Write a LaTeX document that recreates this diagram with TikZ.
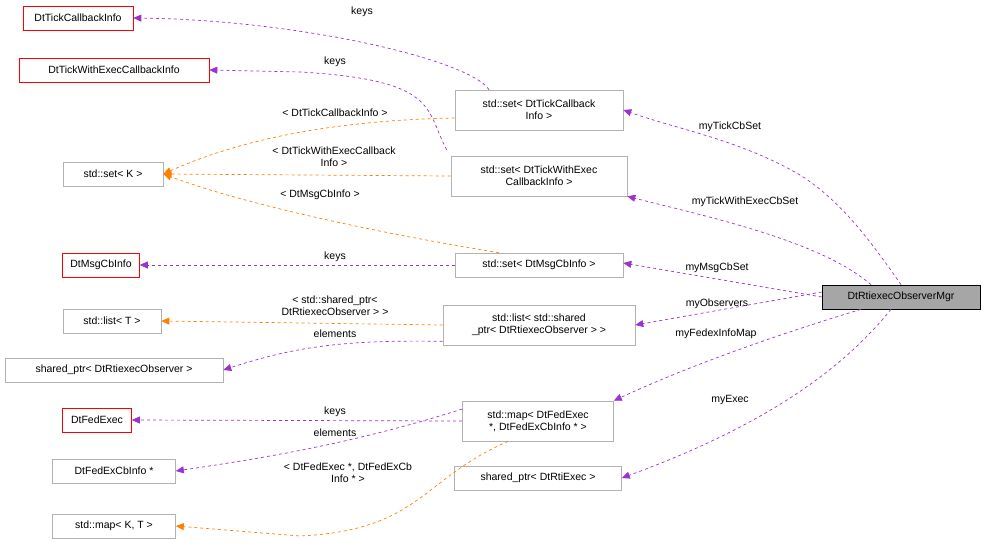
\documentclass[tikz,border=0pt]{standalone}
\usepackage{fontspec}
\setmainfont{Liberation Sans}
\usetikzlibrary{arrows.meta}
\begin{document}
\begin{tikzpicture}[x=1pt,y=-1pt,
 every node/.style={font=\fontsize{10.5}{12}\selectfont},
 box/.style={draw=#1,fill=white,minimum height=24pt,inner xsep=2pt,align=center,line width=0.6pt},
 box/.default={black!30},
 red/.style={box=red},
 two/.style={box,minimum height=40pt,inner ysep=2pt},
 lab/.style={align=center,inner sep=1pt,fill=none},
 pu/.style={draw={rgb,255:red,154;green,50;blue,205},dashed,line width=0.7pt,-{Triangle[length=8pt,width=7pt]}},
 or/.style={draw=orange,dashed,line width=0.7pt,-{Triangle[length=8pt,width=7pt]},color=orange}]
\useasboundingbox (0,0) rectangle (987,548);
\node[red,minimum width=110pt] (tcb) at (78,18) {DtTickCallbackInfo};
\node[red,minimum width=190pt] (twe) at (114,70) {DtTickWithExecCallbackInfo};
\node[box,minimum width=100pt] (setk) at (113,174) {std::set\textless{} K \textgreater};
\node[red,minimum width=77pt] (msg) at (101,265) {DtMsgCbInfo};
\node[box,minimum width=98pt] (listt) at (112,321) {std::list\textless{} T \textgreater};
\node[box,minimum width=218pt] (spo) at (114,370) {shared\_ptr\textless{} DtRtiexecObserver \textgreater};
\node[red,minimum width=69pt] (fed) at (97,420) {DtFedExec};
\node[box,minimum width=123pt] (fcb) at (114,471) {DtFedExCbInfo *};
\node[box,minimum width=123pt] (mapkt) at (114,526) {std::map\textless{} K, T \textgreater};
\node[two,minimum width=168pt] (s1) at (539,110) {std::set\textless{} DtTickCallback\\Info \textgreater};
\node[two,minimum width=176pt] (s2) at (539,176) {std::set\textless{} DtTickWithExec\\CallbackInfo \textgreater};
\node[box,minimum width=168pt] (s3) at (539,265) {std::set\textless{} DtMsgCbInfo \textgreater};
\node[two,minimum width=192pt] (l1) at (539,325) {std::list\textless{} std::shared\\\_ptr\textless{} DtRtiexecObserver \textgreater{} \textgreater};
\node[two,minimum width=151pt] (m1) at (538,421) {std::map\textless{} DtFedExec\\*, DtFedExCbInfo * \textgreater};
\node[box,minimum width=167pt] (sp2) at (538,478) {shared\_ptr\textless{} DtRtiExec \textgreater};
\node[draw=black,fill=black!35,minimum height=24pt,minimum width=158pt,line width=0.6pt] (mgr) at (901,297) {DtRtiexecObserverMgr};
% member edges
\draw[pu] (mgr.north) .. controls (870,240) and (840,200) .. (800,175) .. controls (740,140) and (680,130) .. (s1.east);
\node[lab] at (730,127) {myTickCbSet};
\draw[pu] ([xshift=-30pt]mgr.north) .. controls (820,240) and (700,215) .. (s2.south east);
\node[lab] at (745,202) {myTickWithExecCbSet};
\draw[pu] (mgr.west) -- ([yshift=2pt]s3.east);
\node[lab] at (717,268) {myMsgCbSet};
\draw[pu] ([yshift=5pt]mgr.west) -- (l1.east);
\node[lab] at (717,304) {myObservers};
\draw[pu] ([xshift=-40pt]mgr.south) .. controls (760,340) and (680,370) .. (m1.north east);
\node[lab] at (716,334) {myFedexInfoMap};
\draw[pu] ([xshift=-10pt]mgr.south) .. controls (850,360) and (780,420) .. (sp2.east);
\node[lab] at (730,400) {myExec};
% keys / elements
\draw[pu] ([xshift=-50pt]s1.north) .. controls (470,60) and (300,20) .. (tcb.east);
\node[lab] at (362,12) {keys};
\draw[pu] ([xshift=-4pt,yshift=6pt]s2.north west) .. controls (425,110) and (440,80) .. (300,72) -- (twe.east);
\node[lab] at (335,62) {keys};
\draw[pu] (s3.west) -- (msg.east);
\node[lab] at (335,257) {keys};
\draw[pu] ([yshift=4pt]l1.south west) .. controls (350,340) and (300,345) .. (spo.east);
\node[lab] at (335,334) {elements};
\draw[pu] (m1.west) -- (fed.east);
\node[lab] at (335,412) {keys};
\draw[pu] ([yshift=12pt]m1.west) .. controls (350,445) and (250,460) .. (fcb.east);
\node[lab] at (335,433) {elements};
% templates
\draw[or] ([yshift=-8pt]s1.west) .. controls (350,120) and (250,135) .. (setk.east);
\node[lab] at (335,113) {\textless{} DtTickCallbackInfo \textgreater};
\draw[or] (s2.west) -- (setk.east);
\node[lab] at (334,157) {\textless{} DtTickWithExecCallback\\Info \textgreater};
\draw[or] ([xshift=-40pt]s3.north) .. controls (420,240) and (260,210) .. (setk.east);
\node[lab] at (320,195) {\textless{} DtMsgCbInfo \textgreater};
\draw[or] (l1.west) -- (listt.east);
\node[lab] at (335,306) {\textless{} std::shared\_ptr\textless\\DtRtiexecObserver \textgreater{} \textgreater};
\draw[or] ([xshift=-30pt]m1.south) .. controls (420,480) and (420,530) .. (300,536) -- (mapkt.east);
\node[lab] at (348,473) {\textless{} DtFedExec *, DtFedExCb\\Info * \textgreater};
\end{tikzpicture}
\end{document}
